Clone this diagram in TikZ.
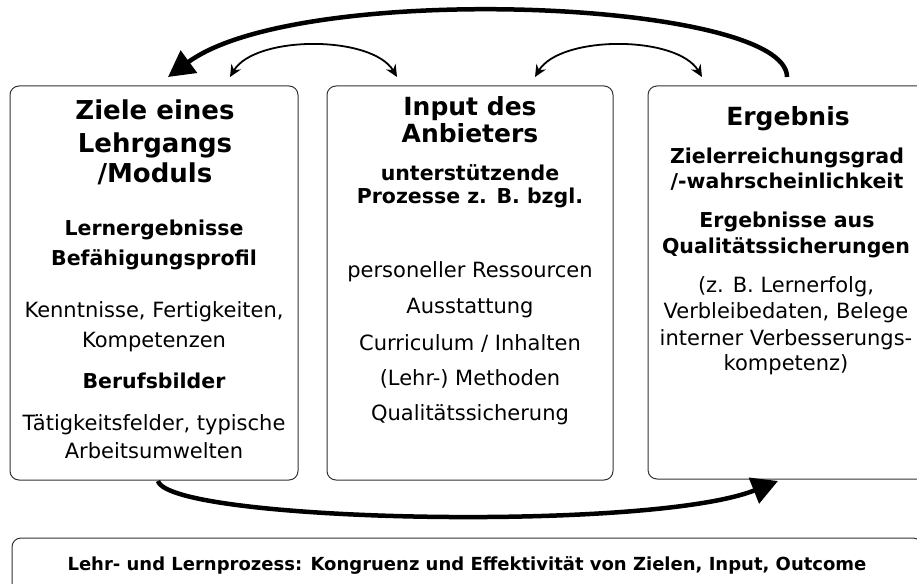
\documentclass[tikz,border=0pt]{standalone}
\usepackage{fontspec}
\setmainfont{DejaVu Sans}
\usetikzlibrary{arrows.meta}
\begin{document}
\begin{tikzpicture}[x=1pt,y=-1pt,
  box/.style={draw=black!80, line width=1pt, rounded corners=9pt, inner sep=0pt},
  ln/.style={anchor=base, inner sep=0pt},
  ttl/.style={ln, font=\bfseries\fontsize{26}{30}\selectfont},
  ttlm/.style={ln, font=\bfseries\fontsize{25}{28}\selectfont},
  ttlr/.style={ln, font=\bfseries\fontsize{25}{29}\selectfont},
  sub/.style={ln, font=\bfseries\fontsize{20.5}{24}\selectfont},
  txt/.style={ln, font=\fontsize{21}{24}\selectfont},
  bigarrow/.style={line width=4.5pt, -{Triangle[length=26pt,width=27pt]}},
  smallarrow/.style={line width=1.8pt, {Stealth[length=12pt,width=11pt,inset=4pt]}-{Stealth[length=12pt,width=11pt,inset=4pt]}}
]
\useasboundingbox (0,0) rectangle (917,583);
\clip (0,0) rectangle (917,583);
\fill[white] (0,0) rectangle (917,583);

% boxes
\node[box, minimum width=288pt, minimum height=394pt] (L) at (154,283) {};
\node[box, minimum width=286pt, minimum height=394pt] (M) at (470,283) {};
\node[box, minimum width=280pt, minimum height=393pt] (R) at (788,282.5) {};
\node[box, minimum width=910pt, minimum height=62pt] (B) at (467,569) {};

% left box text
\node[ttl] (l1) at (155,119) {Ziele eines};
\node[ttl] (l2) at (155,152) {Lehrgangs};
\node[ttl] (l3) at (155,182) {/Moduls};
\node[sub] (l4) at (154,235) {Lernergebnisse};
\node[sub] (l5) at (154,265) {Befähigungsprofil};
\node[txt] (l6) at (154,317) {Kenntnisse, Fertigkeiten,};
\node[txt] (l7) at (154,347) {Kompetenzen};
\node[sub] (l8) at (154,388) {Berufsbilder};
\node[txt] (l9) at (154,430) {Tätigkeitsfelder, typische};
\node[txt] (l10) at (154,458) {Arbeitsumwelten};

% middle box text
\node[ttlm] (m1) at (470,115) {Input des};
\node[ttlm] (m2) at (470,142) {Anbieters};
\node[sub] (m3) at (470,180) {unterstützende};
\node[sub] (m4) at (470,203) {Prozesse z. B. bzgl.};
\node[txt] (m5) at (470,277) {personeller Ressourcen};
\node[txt] (m6) at (470,313) {Ausstattung};
\node[txt] (m7) at (470,350) {Curriculum / Inhalten};
\node[txt] (m8) at (470,385) {(Lehr-) Methoden};
\node[txt] (m9) at (470,420) {Qualitätssicherung};

% right box text
\node[ttlr] (r1) at (788,125) {Ergebnis};
\node[sub] (r2) at (787,163) {Zielerreichungsgrad};
\node[sub] (r3) at (787,188) {/-wahrscheinlichkeit};
\node[sub] (r4) at (787,227) {Ergebnisse aus};
\node[sub] (r5) at (786,253) {Qualitätssicherungen};
\node[txt] (r6) at (786,292) {(z. B. Lernerfolg,};
\node[txt] (r7) at (786,318) {Verbleibedaten, Belege};
\node[txt] (r8) at (786,345) {interner Verbesserungs-};
\node[txt] (r9) at (786,370) {kompetenz)};

% bottom text
\node[ln, font=\bfseries\fontsize{18}{21}\selectfont] (b1) at (467,570) {Lehr- und Lernprozess: Kongruenz und Effektivität von Zielen, Input, Outcome};

% arrow endpoints
\coordinate (rTop) at (787,77);
\coordinate (lTop) at (168,77);
\coordinate (a1) at (230,77);
\coordinate (a2) at (397,77);
\coordinate (a3) at (535,77);
\coordinate (a4) at (702,77);
\coordinate (lBot) at (158,481);
\coordinate (rBot) at (778,481);

\draw[bigarrow] (rTop) .. controls (787,0) and (300,-20) .. (lTop);
\draw[smallarrow] (a1) .. controls (255,35) and (372,35) .. (a2);
\draw[smallarrow] (a3) .. controls (560,35) and (677,35) .. (a4);
\draw[bigarrow] (lBot) .. controls (170,522) and (650,532) .. (rBot);
\end{tikzpicture}
\end{document}
